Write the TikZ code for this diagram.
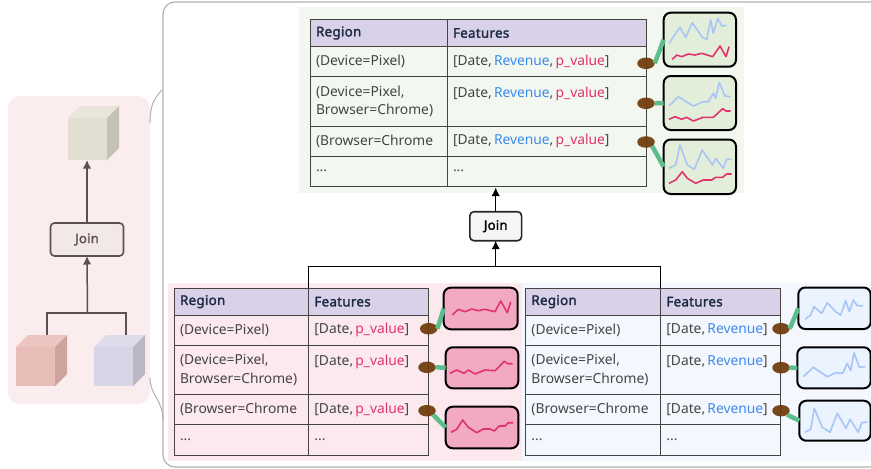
\documentclass[tikz,border=0pt]{standalone}
\usepackage{fontspec}
\setmainfont{Noto Sans}[BoldFont={Noto Sans},BoldFeatures={FakeBold=2,LetterSpace=2}]
\usetikzlibrary{arrows.meta,shapes.geometric}

\definecolor{framegray}{HTML}{B0B0B0}
\definecolor{leftpink}{HTML}{FBEDED}
\definecolor{leftline}{HTML}{5E5050}
\definecolor{leftjoin}{HTML}{F3E8E8}
\definecolor{toppanel}{HTML}{F2F7F0}
\definecolor{redpanel}{HTML}{FBE9EE}
\definecolor{bluepanel}{HTML}{F4F8FE}
\definecolor{headfill}{HTML}{D9D1E7}
\definecolor{headtext}{HTML}{1E2B45}
\definecolor{celltext}{HTML}{444444}
\definecolor{revblue}{HTML}{3B8BEB}
\definecolor{pvalred}{HTML}{E0336E}
\definecolor{sparkblue}{HTML}{A9C5F5}
\definecolor{dotbrown}{HTML}{6E3B0A}
\definecolor{linkgreen}{HTML}{5BBE8C}
\definecolor{chartgreen}{HTML}{E2EEDA}
\definecolor{chartred}{HTML}{F2A9C4}
\definecolor{chartblue}{HTML}{EAF3FE}

\newcommand{\rev}{\textcolor{revblue}{Revenue}}
\newcommand{\pval}{\textcolor{pvalred}{p\_value}}

\tikzset{
    panel/.style={rectangle,anchor=north west,inner sep=0,outer sep=0},
    cubeface/.style={panel,minimum width=39pt,minimum height=39pt},
    cell/.style={rectangle,draw=celltext,line width=1pt,anchor=north west,outer sep=0,inner xsep=5.7pt,inner ysep=0,align=left,text=celltext,execute at begin node={\spaceskip=2.2pt\relax}},
    headcell/.style={cell,fill=headfill,text=headtext,font=\fontsize{13.4}{18.5}\selectfont\bfseries},
    joinbox/.style={rectangle,rounded corners=4pt,line width=1.6pt,inner sep=0,outer sep=0,font=\fontsize{13}{15}\selectfont\bfseries},
    chart/.style={rectangle,draw=black,rounded corners=7pt,line width=2pt,anchor=north west,inner sep=0,outer sep=0},
    dot/.style={ellipse,fill=dotbrown,fill opacity=0.93,minimum width=17.5pt,minimum height=11.5pt,inner sep=0,outer sep=0},
    link/.style={draw=linkgreen,line width=4.5pt},
    sparkb/.style={draw=sparkblue,line width=1.6pt,line join=round},
    sparkr/.style={draw=pvalred,line width=1.6pt,line join=round},
    flow/.style={-{Latex[length=8.5pt,width=8.5pt]},line width=1.5pt},
}

\begin{document}
\begin{tikzpicture}[x=1pt,y=-1pt,font=\fontsize{13.8}{18.5}\selectfont]
    \useasboundingbox (0,0) rectangle (871,469);

    % left overview
    \draw (8,96) node (leftpanel) [panel,fill=leftpink,rounded corners=12pt,minimum width=142pt,minimum height=308pt] {};
    \draw (68,118) node (topcube) [cubeface,minimum height=42pt,fill={rgb,255:red,225;green,223;blue,210}] {};
    \fill [color={rgb,255:red,232;green,230;blue,218}] (topcube.north west) -- ++(12,-12) -- ++(39,0) -- (topcube.north east) -- cycle;
    \fill [color={rgb,255:red,198;green,193;blue,181}] (topcube.north east) -- ++(12,-12) -- ++(0,42) -- (topcube.south east) -- cycle;
    \draw (16,347) node (redcube) [cubeface,fill={rgb,255:red,232;green,189;blue,184}] {};
    \fill [color={rgb,255:red,237;green,197;blue,192}] (redcube.north west) -- ++(12,-12) -- ++(39,0) -- (redcube.north east) -- cycle;
    \fill [color={rgb,255:red,204;green,164;blue,158}] (redcube.north east) -- ++(12,-12) -- ++(0,39) -- (redcube.south east) -- cycle;
    \draw (94,347) node (bluecube) [cubeface,fill={rgb,255:red,216;green,213;blue,230}] {};
    \fill [color={rgb,255:red,222;green,219;blue,234}] (bluecube.north west) -- ++(12,-12) -- ++(39,0) -- (bluecube.north east) -- cycle;
    \fill [color={rgb,255:red,186;green,182;blue,198}] (bluecube.north east) -- ++(12,-12) -- ++(0,39) -- (bluecube.south east) -- cycle;
    \draw (87,239.5) node (leftjoin) [joinbox,draw=leftline,fill=leftjoin,text=leftline,minimum width=73pt,minimum height=33pt] {Join};
    \coordinate (redtop) at (47,335);
    \coordinate (bluetop) at (126,335);
    \coordinate (leftbus) at (87.5,313);
    \draw [flow,draw=leftline] (leftjoin.north) -- (leftjoin.north |- topcube.south);
    \draw [flow,draw=leftline] (leftbus) -- (leftjoin.south);
    \draw [draw=leftline,line width=1.5pt] (redtop) |- (bluetop |- leftbus) -- (bluetop);

    % frame and brace
    \draw [framegray,line width=1.2pt,rounded corners=12pt] (873,2) -- (163,2) -- (163,467) -- (873,467);
    \draw [framegray,line width=1pt] (162,90) .. controls (156,97) and (150,102) .. (150,123);
    \draw [framegray,line width=1pt] (150,378) .. controls (150,395) and (163,400) .. (163,420);

    % panels behind the tables
    \draw (299,7) node (topbg) [panel,fill=toppanel,minimum width=445pt,minimum height=186pt] {};
    \draw (167.5,283) node (redbg) [panel,fill=redpanel,minimum width=356pt,minimum height=178pt] {};
    \draw (522,283) node (bluebg) [panel,fill=bluepanel,minimum width=350pt,minimum height=178pt] {};

    % top table
    \draw (310.3,19.3) node (topregion) [headcell,text width=125.6pt,minimum height=27.4pt] {Region};
    \draw (447.3,19.3) node (topfeat) [headcell,text width=187.3pt,minimum height=27.4pt] {Features};
    \draw (310.3,46.7) node (topa) [cell,text width=125.6pt,minimum height=29.6pt] {(Device=Pixel)};
    \draw (447.3,46.7) node (topafeat) [cell,text width=187.3pt,minimum height=29.6pt] {[Date, \rev, \pval]};
    \draw (310.3,76.3) node (topb) [cell,text width=125.6pt,minimum height=50pt] {(Device=Pixel,\\Browser=Chrome)};
    \draw (447.3,76.3) node (topbfeat) [cell,text width=187.3pt,minimum height=50pt] {[Date, \rev, \pval]\\~};
    \draw (310.3,126.3) node (topc) [cell,text width=125.6pt,minimum height=29.7pt] {(Browser=Chrome};
    \draw (447.3,126.3) node (topcfeat) [cell,text width=187.3pt,minimum height=29.7pt] {[Date, \rev, \pval]};
    \draw (310.3,156) node (topd) [cell,text width=125.6pt,minimum height=30.3pt] {...};
    \draw (447.3,156) node (topdfeat) [cell,text width=187.3pt,minimum height=30.3pt] {...};

    % lower left table
    \draw (174.3,288) node (redregion) [headcell,text width=123pt,minimum height=27.3pt] {Region};
    \draw (308.7,288) node (redfeat) [headcell,text width=108.6pt,minimum height=27.3pt] {Features};
    \draw (174.3,315.3) node (reda) [cell,text width=123pt,minimum height=29.7pt] {(Device=Pixel)};
    \draw (308.7,315.3) node (redafeat) [cell,text width=108.6pt,minimum height=29.7pt] {[Date, \pval]};
    \draw (174.3,345) node (redb) [cell,text width=123pt,minimum height=49.7pt] {(Device=Pixel,\\Browser=Chrome)};
    \draw (308.7,345) node (redbfeat) [cell,text width=108.6pt,minimum height=49.7pt] {[Date, \pval]\\~};
    \draw (174.3,394.7) node (redc) [cell,text width=123pt,minimum height=29.6pt] {(Browser=Chrome};
    \draw (308.7,394.7) node (redcfeat) [cell,text width=108.6pt,minimum height=29.6pt] {[Date, \pval]};
    \draw (174.3,424.3) node (redd) [cell,text width=123pt,minimum height=30.7pt] {...};
    \draw (308.7,424.3) node (reddfeat) [cell,text width=108.6pt,minimum height=30.7pt] {...};

    % lower right table
    \draw (525.7,288) node (blueregion) [headcell,text width=123.6pt,minimum height=27.3pt] {Region};
    \draw (660.7,288) node (bluefeat) [headcell,text width=107.9pt,minimum height=27.3pt] {Features};
    \draw (525.7,315.3) node (bluea) [cell,text width=123.6pt,minimum height=29.7pt] {(Device=Pixel)};
    \draw (660.7,315.3) node (blueafeat) [cell,text width=107.9pt,minimum height=29.7pt] {[Date, \rev]};
    \draw (525.7,345) node (blueb) [cell,text width=123.6pt,minimum height=49.7pt] {(Device=Pixel,\\Browser=Chrome)};
    \draw (660.7,345) node (bluebfeat) [cell,text width=107.9pt,minimum height=49.7pt] {[Date, \rev]\\~};
    \draw (525.7,394.7) node (bluec) [cell,text width=123.6pt,minimum height=29.6pt] {(Browser=Chrome};
    \draw (660.7,394.7) node (bluecfeat) [cell,text width=107.9pt,minimum height=29.6pt] {[Date, \rev]};
    \draw (525.7,424.3) node (blued) [cell,text width=123.6pt,minimum height=30.7pt] {...};
    \draw (660.7,424.3) node (bluedfeat) [cell,text width=107.9pt,minimum height=30.7pt] {...};

    % join in the middle
    \draw (495.7,226.2) node (midjoin) [joinbox,draw=black!85,fill=black!4,minimum width=51.7pt,minimum height=29pt] {Join};
    \coordinate (midbus) at (495.7,266.7);
    \coordinate (toptip) at (495.7,187.5);
    \draw [flow] (midjoin.north) -- (toptip);
    \draw [flow] (midbus) -- (midjoin.south);
    \draw [line width=1.5pt] (redregion.north east) |- (midbus) -| (blueregion.north east);

    % top charts
    \draw (663.7,12.7) node (topchart1) [chart,fill=chartgreen,minimum width=72.3pt,minimum height=54pt] {};
    \draw (663.7,76) node (topchart2) [chart,fill=chartgreen,minimum width=72.3pt,minimum height=54pt] {};
    \draw (663.7,139.5) node (topchart3) [chart,fill=chartgreen,minimum width=72.3pt,minimum height=54.5pt] {};
    \draw (646,63.3) node (topdot1) [dot] {};
    \draw (646,103.3) node (topdot2) [dot] {};
    \draw (646,142) node (topdot3) [dot] {};
    \draw [link] (topdot1.east) -- (topchart1.west);
    \draw [link] (topdot2.east) -- (topchart2.west);
    \draw [link] (topdot3.south east) -- (topchart3.west);
    \draw [sparkb] (669,43.3) -- (680,27.3) -- (685.7,37.3) -- (692.3,22.7) -- (702.3,37.3) -- (706.7,39.3) -- (710.7,20) -- (713.3,33.3) -- (717.7,18.3) -- (721.7,26) -- (726.7,25.3);
    \draw [sparkr] (672.3,59.3) -- (676.7,55) -- (681.7,56.7) -- (688.3,54) -- (695,55) -- (701.7,53.3) -- (712.7,56.7) -- (720,46) -- (726,56.7) -- (729,46.7);
    \draw [sparkb] (669,106) -- (678.3,96.7) -- (693.3,106) -- (703.3,101.7) -- (708.3,101.7) -- (713.3,93.3) -- (715.7,98.3) -- (719.3,82.3) -- (725,96) -- (730.7,96.7);
    \draw [sparkr] (669,119.3) -- (675,116.7) -- (681.7,119.3) -- (686.7,117.3) -- (693.3,121) -- (703.3,117.3) -- (713.3,117.3) -- (722.7,108.7) -- (726,111) -- (730.7,111);
    \draw [sparkb] (669,168.3) -- (675.7,165) -- (680,145) -- (687.3,165) -- (694.3,169.3) -- (702.3,150) -- (712.3,165) -- (715.7,158.3) -- (723.3,168.3) -- (726.7,159.3) -- (731.7,159.3);
    \draw [sparkr] (669,183.3) -- (675.7,180) -- (682.3,171.7) -- (687.3,178.3) -- (695.7,183.3) -- (703.3,180) -- (711.7,180) -- (715.7,177.3) -- (722.7,177.3) -- (726.7,174) -- (731.7,174);

    % lower left charts
    \draw (443.7,287.7) node (redchart1) [chart,fill=chartred,minimum width=74pt,minimum height=41.6pt] {};
    \draw (445.7,347.3) node (redchart2) [chart,fill=chartred,minimum width=72.6pt,minimum height=41pt] {};
    \draw (445.7,406.7) node (redchart3) [chart,fill=chartred,minimum width=72.6pt,minimum height=41.6pt] {};
    \draw (428.7,328.7) node (reddot1) [dot] {};
    \draw (427,367.3) node (reddot2) [dot] {};
    \draw (427,410.7) node (reddot3) [dot] {};
    \draw [link] (reddot1.east) -- (redchart1.west);
    \draw [link] (reddot2.east) -- (redchart2.west);
    \draw [link] (reddot3.south east) -- (redchart3.west);
    \draw [sparkr] (452.3,315) -- (458.3,309.3) -- (465,311.7) -- (471.7,309) -- (478.3,310.7) -- (485,309.3) -- (495,311.7) -- (500.7,301) -- (507.3,312.7) -- (510.7,301.7);
    \draw [sparkr] (450,373.3) -- (456.7,370) -- (464,373.3) -- (468.3,370) -- (475,374) -- (485,370) -- (495,370.7) -- (504.3,361.3) -- (507.7,363.7) -- (512.7,363.7);
    \draw [sparkr] (451,432.3) -- (456.7,429.3) -- (462.7,420) -- (468.3,427.3) -- (476.7,432.7) -- (483.3,429) -- (490,429) -- (494.3,431) -- (499.3,426) -- (505,426) -- (508.3,422.7) -- (513.3,422.7);

    % lower right charts
    \draw (798.3,287.5) node (bluechart1) [chart,fill=chartblue,minimum width=72.4pt,minimum height=41.5pt] {};
    \draw (797.3,347.3) node (bluechart2) [chart,fill=chartblue,minimum width=73.4pt,minimum height=41pt] {};
    \draw (799.3,400.7) node (bluechart3) [chart,fill=chartblue,minimum width=71.4pt,minimum height=40pt] {};
    \draw (781,328.7) node (bluedot1) [dot] {};
    \draw (781,367.7) node (bluedot2) [dot] {};
    \draw (781,410.7) node (bluedot3) [dot] {};
    \draw [link] (bluedot1.east) -- (bluechart1.west);
    \draw [link] (bluedot2.east) -- (bluechart2.west);
    \draw [link] (bluedot3.south east) -- (bluechart3.west);
    \draw [sparkb] (805,319.3) -- (810.7,315) -- (814,306.7) -- (821.7,313.3) -- (827.3,302.7) -- (835.7,311.7) -- (840.7,315) -- (845.7,300.7) -- (849.3,311.7) -- (853.3,300) -- (857.3,305.7) -- (862.7,306);
    \draw [sparkb] (803.3,376.7) -- (813.3,367.3) -- (827.3,376.7) -- (835.7,372.7) -- (842.7,373.3) -- (847.3,363.3) -- (850.7,370.7) -- (854,352.7) -- (859.3,367.3) -- (865,366.7);
    \draw [sparkb] (805,432.3) -- (810.7,429.3) -- (814.3,408.3) -- (822.3,427.3) -- (830,432.3) -- (837.3,413.3) -- (846,428.3) -- (850,419.3) -- (858.3,432.3) -- (861.7,422.7) -- (867.3,422);
\end{tikzpicture}
\end{document}
